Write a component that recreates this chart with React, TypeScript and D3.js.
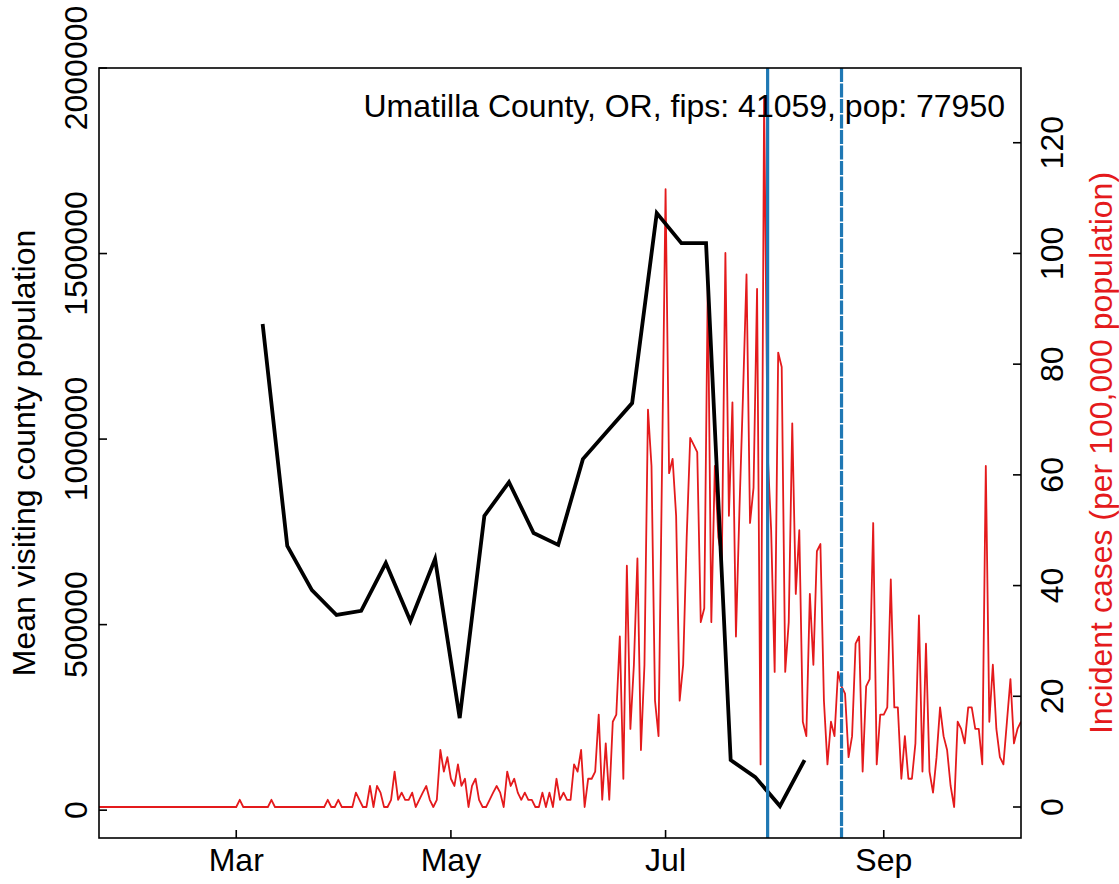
import React from 'react';
import * as d3 from 'd3';

// ---------- data ----------
const START_DATE = '2020-01-22';

// Daily incident cases per 100,000 population, from START_DATE
const incidence: number[] = [
  0, 0, 0, 0, 0, 0, 0, 0, 0, 0,
  0, 0, 0, 0, 0, 0, 0, 0, 0, 0,
  0, 0, 0, 0, 0, 0, 0, 0, 0, 0,
  0, 0, 0, 0, 0, 0, 0, 0, 0, 0,
  1.3, 0, 0, 0, 0, 0, 0, 0, 0, 1.3,
  0, 0, 0, 0, 0, 0, 0, 0, 0, 0,
  0, 0, 0, 0, 0, 1.3, 0, 0, 1.3, 0,
  0, 0, 0, 2.6, 1.3, 0, 0, 3.8, 0, 3.8,
  2.6, 0, 0, 1.3, 6.4, 1.3, 2.6, 1.3, 1.3, 2.6,
  0, 1.3, 2.6, 3.8, 1.3, 0, 1.3, 10.3, 6.4, 9.0,
  5.1, 3.8, 7.7, 3.8, 5.1, 0, 3.8, 5.1, 1.3, 0,
  0, 1.3, 2.6, 3.8, 2.6, 0, 6.4, 3.8, 5.1, 2.6,
  1.3, 2.6, 1.3, 1.3, 0, 0, 2.6, 0, 2.6, 0,
  5.1, 1.3, 2.6, 1.3, 1.3, 7.7, 6.4, 10.3, 0, 5.1,
  5.1, 6.4, 16.7, 1.3, 11.5, 1.3, 15.4, 16.7, 30.8, 5.1,
  43.6, 14.1, 25.7, 44.9, 10.3, 25.7, 71.8, 61.6, 19.2, 12.8,
  61.6, 111.6, 60.3, 62.9, 52.6, 19.2, 25.7, 48.7, 66.7, 65.4,
  64.1, 33.4, 35.9, 94.9, 33.4, 61.6, 48.7, 44.9, 100.1, 52.6,
  73.1, 30.8, 53.9, 74.4, 96.2, 51.3, 57.7, 93.6, 7.7, 128.3,
  64.1, 50.0, 24.4, 82.1, 79.5, 24.4, 33.4, 69.3, 38.5, 50.0,
  15.4, 12.8, 38.5, 25.7, 46.2, 47.5, 19.2, 7.7, 15.4, 12.8,
  24.4, 21.8, 20.5, 9.0, 12.8, 29.5, 30.8, 6.4, 21.8, 23.1,
  51.3, 7.7, 16.7, 16.7, 18.0, 41.1, 18.0, 18.0, 5.1, 12.8,
  5.1, 5.1, 11.5, 34.6, 6.4, 29.5, 6.4, 2.6, 9.0, 18.0,
  12.8, 10.3, 3.8, 0, 15.4, 14.1, 11.5, 18.0, 18.0, 14.1,
  14.1, 7.7, 61.6, 15.4, 25.7, 14.1, 9.0, 7.7, 15.4, 23.1,
  11.5, 14.1, 15.4,
];

// Weekly mean visiting county population
const weekDates: string[] = [
  '2020-03-08', '2020-03-15', '2020-03-22', '2020-03-29', '2020-04-05',
  '2020-04-12', '2020-04-19', '2020-04-26', '2020-05-03', '2020-05-10',
  '2020-05-17', '2020-05-24', '2020-05-31', '2020-06-07', '2020-06-14',
  '2020-06-21', '2020-06-28', '2020-07-05', '2020-07-12', '2020-07-19',
  '2020-07-26', '2020-08-02', '2020-08-09',
];
const visitingPop: number[] = [
  1310000, 712000, 593000, 526000, 537000,
  666000, 510000, 677000, 248000, 793000,
  884000, 747000, 715000, 946000, 1022000,
  1097000, 1609000, 1528000, 1528000, 135000,
  89000, 11000, 135000,
];

const leftTicks: number[] = [0, 500000, 1000000, 1500000, 2000000];
const rightTicks: number[] = [0, 20, 40, 60, 80, 100, 120];
const monthTicks: string[] = ['2020-03-01', '2020-05-01', '2020-07-01', '2020-09-01'];
const markerDates: string[] = ['2020-07-30', '2020-08-20'];
const titleText = 'Umatilla County, OR, fips: 41059, pop: 77950';
const leftLabel = 'Mean visiting county population';
const rightLabel = 'Incident cases (per 100,000 population)';

export default function App() {
  const W = 1119;
  const H = 884;
  const P = { left: 99, right: 1021, top: 68, bottom: 838 };
  const FS = 32;
  const font = "'Liberation Sans', Arial, Helvetica, sans-serif";
  const RED = '#e41a1c';
  const BLUE = '#1f78b4';

  const parse = d3.timeParse('%Y-%m-%d');
  const start = parse(START_DATE) as Date;
  const dates = incidence.map((_, i) => d3.timeDay.offset(start, i));
  const x = d3.scaleTime().domain([start, dates[dates.length - 1]]).range([P.left, P.right]);
  const yL = d3.scaleLinear().domain([-75000, 2000000]).range([P.bottom, P.top]);
  const yR = d3.scaleLinear().domain([-5.6, 133.5]).range([P.bottom, P.top]);

  const redLine = d3.line<number>()
    .x((_, i) => x(dates[i]))
    .y((d) => yR(d))(incidence) as string;

  const weekPts = weekDates.map((d, i) => ({
    date: d3.timeHour.offset(parse(d) as Date, 12),
    v: visitingPop[i],
  }));
  const blackLine = d3.line<{ date: Date; v: number }>()
    .x((d) => x(d.date))
    .y((d) => yL(d.v))(weekPts) as string;

  const fmtMonth = d3.timeFormat('%b');
  const tick = 8;

  return (
    <svg width={W} height={H} viewBox={`0 0 ${W} ${H}`}
      style={{ position: 'absolute', left: 0, top: 0, background: '#fff' }}
      fontFamily={font}>
      <rect x={0} y={0} width={W} height={H} fill="#fff" />
      <defs>
        <clipPath id="plotclip">
          <rect x={P.left} y={P.top} width={P.right - P.left} height={P.bottom - P.top} />
        </clipPath>
      </defs>

      {/* series */}
      <g clipPath="url(#plotclip)">
        <path d={redLine} fill="none" stroke={RED} strokeWidth={1.8} strokeLinejoin="round" />
        <path d={blackLine} fill="none" stroke="#000" strokeWidth={3.8} strokeLinejoin="miter" />
        {markerDates.map((d, i) => {
          const xx = x(parse(d) as Date);
          return (
            <line key={d} x1={xx} x2={xx} y1={P.top} y2={P.bottom}
              stroke={BLUE} strokeWidth={3.2}
              strokeDasharray={i === 1 ? '14 1.5' : undefined} />
          );
        })}
      </g>

      {/* box */}
      <rect x={P.left} y={P.top} width={P.right - P.left} height={P.bottom - P.top}
        fill="none" stroke="#000" strokeWidth={1.6} />

      {/* bottom axis */}
      {monthTicks.map((d) => {
        const dt = parse(d) as Date;
        const xx = x(dt);
        return (
          <g key={d}>
            <line x1={xx} x2={xx} y1={P.bottom} y2={P.bottom - tick} stroke="#000" strokeWidth={1.6} />
            <text x={xx} y={871} fontSize={FS} textAnchor="middle" fill="#000">{fmtMonth(dt)}</text>
          </g>
        );
      })}

      {/* left axis */}
      {leftTicks.map((v) => {
        const yy = yL(v);
        return (
          <g key={v}>
            <line x1={P.left} x2={P.left + tick} y1={yy} y2={yy} stroke="#000" strokeWidth={1.6} />
            <text transform={`translate(87,${yy}) rotate(-90)`} fontSize={FS}
              textAnchor="middle" fill="#000">{v}</text>
          </g>
        );
      })}

      {/* right axis */}
      {rightTicks.map((v) => {
        const yy = yR(v);
        return (
          <g key={v}>
            <line x1={P.right} x2={P.right - tick} y1={yy} y2={yy} stroke="#000" strokeWidth={1.6} />
            <text transform={`translate(1063,${yy}) rotate(-90)`} fontSize={FS}
              textAnchor="middle" fill="#000">{v}</text>
          </g>
        );
      })}

      {/* axis titles */}
      <text transform={`translate(35,${(P.top + P.bottom) / 2}) rotate(-90)`} fontSize={FS}
        textAnchor="middle" fill="#000">{leftLabel}</text>
      <text transform={`translate(1112,${(P.top + P.bottom) / 2}) rotate(-90)`} fontSize={FS}
        textAnchor="middle" fill={RED}>{rightLabel}</text>

      {/* title */}
      <text x={1005} y={117} fontSize={FS} textAnchor="end" fill="#000">{titleText}</text>
    </svg>
  );
}
